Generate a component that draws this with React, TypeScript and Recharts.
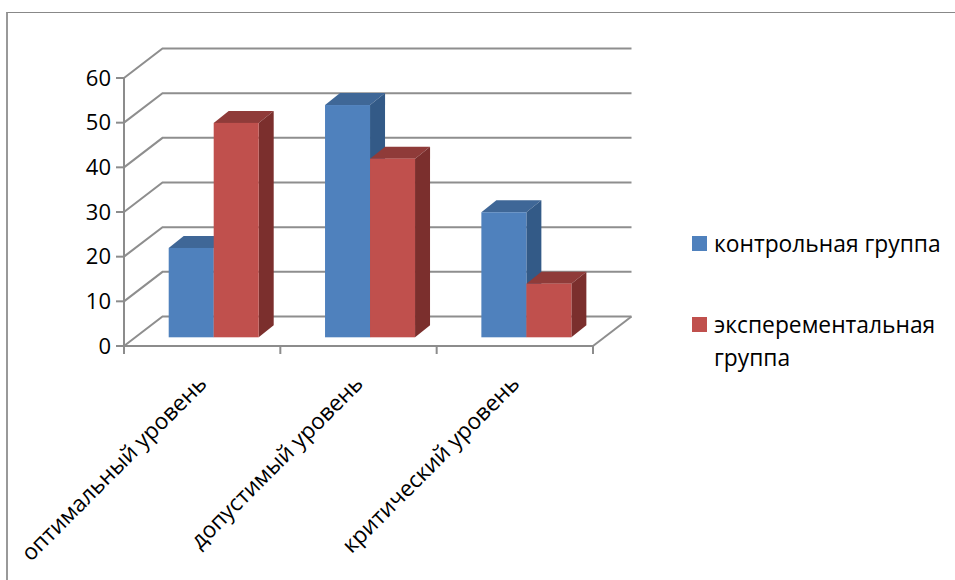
import React from 'react';
import { BarChart, Bar, XAxis, YAxis, CartesianGrid, Legend } from 'recharts';

const categories = ['оптимальный уровень', 'допустимый уровень', 'критический уровень'];
const controlValues = [20, 52, 28];
const experimentValues = [48, 40, 12];
const yTicks = [0, 10, 20, 30, 40, 50, 60];
const controlName = 'контрольная группа';
const experimentName = 'эксперементальная группа';

const rows = categories.map((name, i) => ({ name, control: controlValues[i], experiment: experimentValues[i] }));

const FONT = '"Open Sans", sans-serif';
const AXIS = '#8c8c8c';
const WALL_DX = 38.5;
const WALL_DY = -29.5;
const BAND = 156.33;

const makeBar = (front: string, top: string, side: string) => (p: any) => {
  const dx = 11.7, dy = -8.7, bx = 15, by = -12;
  const x = p.x + dx, y = p.y + dy, w = p.width, h = p.height;
  return (
    <g>
      <path d={`M${x} ${y}L${x + bx} ${y + by}L${x + w + bx} ${y + by}L${x + w} ${y}Z`} fill={top} />
      <path d={`M${x + w} ${y}L${x + w + bx} ${y + by}L${x + w + bx} ${y + h + by}L${x + w} ${y + h}Z`} fill={side} />
      <rect x={x} y={y} width={w} height={h} fill={front} />
    </g>
  );
};

const GridLine = (p: any) => {
  const { x1, x2, y1 } = p;
  const floor = Math.abs(y1 - 346) < 1;
  return (
    <g fill="none" stroke="#8e8e8e" strokeWidth={2}>
      <path d={`M${x1} ${y1}L${x1 + WALL_DX} ${y1 + WALL_DY}L${x2 + WALL_DX} ${y1 + WALL_DY}`} />
      {floor && <path d={`M${x2} ${y1}L${x2 + WALL_DX} ${y1 + WALL_DY}`} />}
    </g>
  );
};

const CategoryTick = (p: any) => {
  const { x, y, payload, index } = p;
  const left = x - BAND / 2;
  const right = x + BAND / 2;
  const tickTop = y - 9;
  const tickBottom = y;
  return (
    <g>
      <line x1={left} x2={left} y1={tickTop} y2={tickBottom} stroke={AXIS} strokeWidth={2} />
      {index === categories.length - 1 && (
        <line x1={right} x2={right} y1={tickTop} y2={tickBottom} stroke={AXIS} strokeWidth={2} />
      )}
      <text
        x={x + 6}
        y={y + 31}
        textAnchor="end"
        fontFamily={FONT}
        fontSize={22.5}
        fill="#000"
        transform={`rotate(-45 ${x + 6} ${y + 31})`}
      >
        {payload.value}
      </text>
    </g>
  );
};

const LegendBox = (p: any) => (
  <div style={{ fontFamily: FONT, fontSize: 22.8, color: '#000', lineHeight: '33px' }}>
    {(p.payload || []).map((item: any, i: number) => (
      <div key={item.value} style={{ display: 'flex', marginTop: i === 0 ? 0 : 48 }}>
        <span
          style={{ width: 15, height: 15, background: item.color, marginTop: 9, marginRight: 7, flex: 'none' }}
        />
        <span style={{ width: 240 }}>{item.value}</span>
      </div>
    ))}
  </div>
);

export default function App() {
  return (
    <div style={{ position: 'absolute', left: 0, top: 0, width: 955, height: 580, background: '#fff' }}>
      <div
        style={{
          position: 'absolute',
          left: 6,
          top: 12,
          right: 0,
          bottom: 0,
          borderTop: '1.5px solid #888',
          borderLeft: '2px solid #999',
        }}
      />
      <BarChart
        width={955}
        height={580}
        data={rows}
        barSize={45}
        barGap={0}
        margin={{ top: 78, right: 362, bottom: 0, left: 44 }}
      >
        <CartesianGrid horizontal={GridLine as any} vertical={false} />
        <XAxis
          dataKey="name"
          height={234}
          axisLine={{ stroke: AXIS, strokeWidth: 2 }}
          tickLine={false}
          interval={0}
          tick={CategoryTick as any}
        />
        <YAxis
          width={80}
          domain={[0, 60]}
          ticks={yTicks}
          interval={0}
          axisLine={{ stroke: AXIS, strokeWidth: 2 }}
          tickLine={{ stroke: AXIS, strokeWidth: 2 }}
          tickSize={8}
          tickMargin={5}
          tick={{ fontFamily: FONT, fontSize: 22, fill: '#000' }}
        />
        <Legend
          content={LegendBox as any}
          wrapperStyle={{ position: 'absolute', left: 692, top: 227, width: 262, height: 0, bottom: 'auto', right: 'auto' }}
        />
        <Bar
          dataKey="control"
          name={controlName}
          fill="#4F81BD"
          isAnimationActive={false}
          shape={makeBar('#4F81BD', '#3F6797', '#335A87') as any}
        />
        <Bar
          dataKey="experiment"
          name={experimentName}
          fill="#C0504D"
          isAnimationActive={false}
          shape={makeBar('#C0504D', '#8F3B39', '#7B2F2D') as any}
        />
      </BarChart>
    </div>
  );
}
